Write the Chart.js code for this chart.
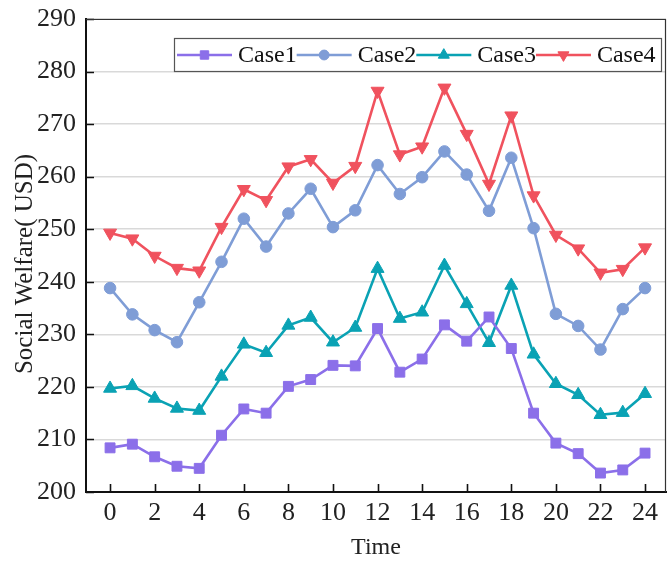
<!DOCTYPE html>
<html>
<head>
<meta charset="utf-8">
<script src="https://cdn.jsdelivr.net/npm/chart.js@4"></script>
<style>
  html, body { margin: 0; padding: 0; background: #ffffff; }
  #wrap { width: 667px; height: 562px; }
</style>
</head>
<body>
<div id="wrap"><canvas id="c" width="667" height="562"></canvas></div>
<script>
// Hourly social welfare for four operating cases
const hours = [0, 1, 2, 3, 4, 5, 6, 7, 8, 9, 10, 11, 12, 13, 14, 15, 16, 17, 18, 19, 20, 21, 22, 23, 24];
const case1 = [208.4, 209.1, 206.7, 204.9, 204.5, 210.8, 215.8, 215.0, 220.1, 221.4, 224.1, 224.0, 231.1, 222.8, 225.3, 231.8, 228.7, 233.3, 227.3, 215.0, 209.3, 207.3, 203.6, 204.2, 207.4];
const case2 = [238.8, 233.8, 230.8, 228.5, 236.1, 243.8, 252.0, 246.7, 253.0, 257.7, 250.4, 253.6, 262.2, 256.7, 259.9, 264.8, 260.4, 253.5, 263.6, 250.2, 233.9, 231.6, 227.1, 234.8, 238.8];
const case3 = [219.7, 220.2, 217.8, 215.9, 215.5, 222.0, 228.1, 226.5, 231.7, 233.2, 228.5, 231.3, 242.5, 233.0, 234.2, 243.1, 235.8, 228.4, 239.3, 226.2, 220.6, 218.5, 214.7, 215.1, 218.7];
const case4 = [249.3, 248.2, 244.9, 242.6, 242.1, 250.4, 257.6, 255.5, 261.9, 263.3, 258.8, 262.0, 276.3, 264.2, 265.7, 276.9, 268.1, 258.6, 271.6, 256.4, 248.9, 246.3, 241.7, 242.4, 246.5];
const seriesNames = ['Case1', 'Case2', 'Case3', 'Case4'];
const xTicks = [0, 2, 4, 6, 8, 10, 12, 14, 16, 18, 20, 22, 24];
const yTicks = [200, 210, 220, 230, 240, 250, 260, 270, 280, 290];
const yTitle = 'Social Welfare( USD)';

const SERIF = '"Liberation Serif", "Times New Roman", serif';

const toPoints = vals => hours.map((h, i) => ({ x: h, y: vals[i] }));

function series(label, vals, color, style, radius, rotation) {
  return {
    label,
    data: toPoints(vals),
    borderColor: color,
    backgroundColor: color,
    borderWidth: 2.6,
    pointStyle: style,
    pointRadius: radius,
    pointHoverRadius: radius,
    pointRotation: rotation || 0,
    pointBorderWidth: 1,
    pointBackgroundColor: color,
    pointBorderColor: color,
    tension: 0,
    fill: false
  };
}

// Inward tick marks, the top/right frame and the vertical axis title
const frame = {
  id: 'frame',
  afterDatasetsDraw(chart) {
    const { ctx, chartArea: a, scales: { x, y } } = chart;
    ctx.save();
    ctx.strokeStyle = '#111';
    ctx.lineWidth = 1.6;
    ctx.beginPath();
    xTicks.forEach(v => {
      const px = Math.round(x.getPixelForValue(v)) + 0.5;
      ctx.moveTo(px, a.bottom);
      ctx.lineTo(px, a.bottom - 8);
    });
    yTicks.forEach(v => {
      const py = Math.round(y.getPixelForValue(v)) + 0.5;
      ctx.moveTo(a.left, py);
      ctx.lineTo(a.left + 8, py);
    });
    ctx.stroke();
    ctx.strokeStyle = '#333';
    ctx.lineWidth = 1.2;
    ctx.beginPath();
    ctx.moveTo(a.left, a.top + 0.5);
    ctx.lineTo(a.right - 0.5, a.top + 0.5);
    ctx.lineTo(a.right - 0.5, a.bottom);
    ctx.stroke();

    ctx.translate(25, 264);
    ctx.rotate(-Math.PI / 2);
    ctx.font = '25px ' + SERIF;
    ctx.fillStyle = '#222';
    ctx.textAlign = 'center';
    ctx.textBaseline = 'middle';
    ctx.fillText(yTitle, 0, 0);
    ctx.restore();
  }
};

// Boxed legend with line + marker samples
const boxLegend = {
  id: 'boxLegend',
  afterDraw(chart) {
    const ctx = chart.ctx;
    const box = { left: 174, top: 38, right: 662, bottom: 72 };
    ctx.save();
    ctx.fillStyle = '#ffffff';
    ctx.fillRect(box.left, box.top, box.right - box.left, box.bottom - box.top);
    ctx.strokeStyle = '#555';
    ctx.lineWidth = 1.2;
    ctx.strokeRect(box.left + 0.5, box.top + 0.5, box.right - box.left - 1, box.bottom - box.top - 1);
    ctx.font = '24px ' + SERIF;
    ctx.textBaseline = 'middle';
    ctx.textAlign = 'left';
    const cy = (box.top + box.bottom) / 2;
    let x = 177;
    chart.data.datasets.forEach(ds => {
      ctx.strokeStyle = ds.borderColor;
      ctx.lineWidth = ds.borderWidth;
      ctx.beginPath();
      ctx.moveTo(x, cy);
      ctx.lineTo(x + 55, cy);
      ctx.stroke();
      ctx.fillStyle = ds.pointBackgroundColor;
      ctx.strokeStyle = ds.pointBorderColor;
      ctx.lineWidth = 1;
      Chart.helpers.drawPoint(ctx, {
        pointStyle: ds.pointStyle,
        radius: ds.pointRadius * 0.85,
        rotation: ds.pointRotation,
        borderWidth: 1
      }, x + 27.5, cy);
      ctx.fillStyle = '#111';
      ctx.fillText(ds.label, x + 61, cy + 1);
      x += 61 + ctx.measureText(ds.label).width;
    });
    ctx.restore();
  }
};

new Chart(document.getElementById('c'), {
  type: 'line',
  data: {
    datasets: [
      series(seriesNames[0], case1, '#8b6fe9', 'rect', 7),
      series(seriesNames[1], case2, '#7f9dd6', 'circle', 5.8),
      series(seriesNames[2], case3, '#0aa2b4', 'triangle', 7.5),
      series(seriesNames[3], case4, '#f0525e', 'triangle', 7.5, 180)
    ]
  },
  options: {
    responsive: false,
    animation: false,
    devicePixelRatio: 1,
    layout: { autoPadding: false, padding: { top: 19, right: 1, left: 0, bottom: 0 } },
    plugins: {
      legend: { display: false },
      tooltip: { enabled: false }
    },
    scales: {
      x: {
        type: 'linear',
        min: -1.08,
        max: 24.94,
        afterBuildTicks: s => { s.ticks = xTicks.map(v => ({ value: v })); },
        afterFit: s => { s.height = 70; s.paddingLeft = 0; s.paddingRight = 0; },
        grid: { display: false, drawTicks: false },
        border: { display: true, color: '#111', width: 2 },
        ticks: {
          padding: 6,
          color: '#222',
          font: { family: SERIF, size: 26 },
          maxRotation: 0,
          autoSkip: false
        },
        title: {
          display: true,
          text: 'Time',
          color: '#222',
          font: { family: SERIF, size: 24 },
          padding: { top: 0, bottom: 0 }
        }
      },
      y: {
        min: 200,
        max: 290,
        afterBuildTicks: s => { s.ticks = yTicks.map(v => ({ value: v })); },
        afterFit: s => { s.width = 86; s.paddingTop = 0; s.paddingBottom = 0; },
        grid: { color: '#d9d9d9', lineWidth: 1.5, drawTicks: false },
        border: { display: true, color: '#111', width: 2 },
        ticks: {
          padding: 10,
          color: '#222',
          font: { family: SERIF, size: 26 },
          autoSkip: false
        },
        title: { display: false }
      }
    }
  },
  plugins: [frame, boxLegend]
});
</script>
</body>
</html>
